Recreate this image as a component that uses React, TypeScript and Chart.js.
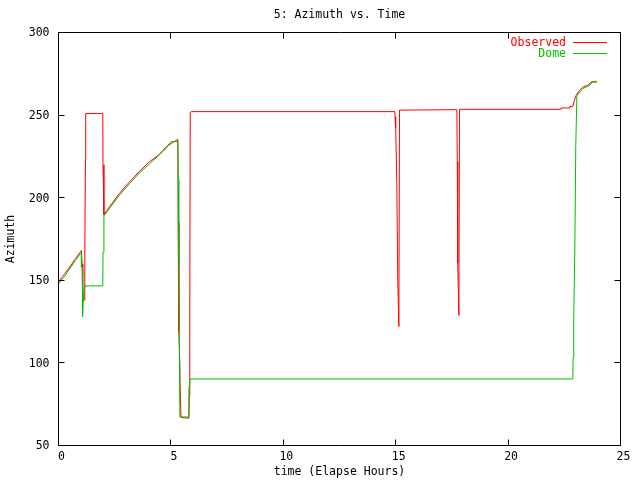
import React, { useEffect, useRef } from "react";
import { Chart, registerables } from "chart.js";

Chart.register(...registerables);

const TITLE = "5: Azimuth vs. Time";
const X_LABEL = "time (Elapse Hours)";
const Y_LABEL = "Azimuth";
const SERIES_NAMES = ["Observed", "Dome"];
const SERIES_COLORS = ["#ff0000", "#00c000"];
const X_TICKS = [0, 5, 10, 15, 20, 25];
const Y_TICKS = [50, 100, 150, 200, 250, 300];

const observedHours = [
  0, 0.25, 0.5, 0.75, 1.02, 1.05, 1.08, 1.16, 1.17, 1.2, 1.21, 1.97, 1.98, 2.02,
  2.27, 2.71, 3.16, 3.6, 4.05, 4.42, 4.64, 4.79, 5.1, 5.31, 5.32, 5.35, 5.36,
  5.4, 5.41, 5.45, 5.8, 5.82, 5.84, 5.86, 5.9, 14.96, 14.97, 15.0, 15.05, 15.09,
  15.14, 15.17, 17.72, 17.74, 17.76, 17.81, 17.84, 22.33, 22.35, 22.73, 22.75,
  22.88, 22.95, 23.03, 23.18, 23.32, 23.55, 23.7, 23.95,
];
const observedAzimuth = [
  149, 153.5, 158, 163, 168, 160, 138, 138, 166, 223, 251, 251, 220, 189.5,
  194.5, 202.6, 209.6, 215.9, 221.8, 225.5, 228.5, 230.8, 233.5, 235.4, 185,
  160, 119, 98, 86, 67, 66.5, 80, 130, 251.5, 252.1, 252.1, 249, 242, 209, 151,
  122, 253, 253.3, 221.7, 160.3, 128.7, 253.5, 253.5, 254.3, 254.3, 255.3,
  255.3, 259, 262, 265, 267, 268, 270, 270,
];

const domeHours = [
  0, 0.25, 0.5, 0.75, 0.97, 1.02, 1.02, 1.06, 1.07, 1.12, 1.18, 1.97, 1.98,
  2.02, 2.27, 2.71, 3.16, 3.6, 4.05, 4.42, 4.79, 5.0, 5.31, 5.33, 5.35, 5.4,
  5.65, 5.8, 5.8, 5.86, 22.88, 22.89, 22.92, 22.97, 23.01, 23.06, 23.18, 23.32,
  23.55, 23.7, 23.75, 23.95,
];
const domeAzimuth = [
  148, 152, 157, 162, 166, 166, 158, 158, 128, 142, 146.6, 146.6, 167, 189,
  193.5, 201.5, 208.5, 215, 220.5, 225, 230, 234, 234, 211, 160, 67.3, 67.3,
  67.3, 84.4, 90.3, 90.3, 103, 127.2, 170.3, 231, 262, 263.5, 266, 267.5, 269,
  270.4, 270.4,
];

const FONT_FAMILY = "'DejaVu Sans Mono', monospace";
const FONT_SIZE = 11.5;

const toPoints = (xs: number[], ys: number[]) =>
  xs.map((x, i) => ({ x, y: ys[i] }));

const framePlugin = {
  id: "gnuplotFrame",
  afterDraw(chart: any) {
    const { ctx, chartArea: a, scales } = chart;
    const crisp = (v: number) => Math.floor(v) + 0.5;
    const tick = 6;
    ctx.save();
    ctx.strokeStyle = "#000000";
    ctx.lineWidth = 1;
    ctx.beginPath();
    ctx.rect(a.left, a.top, a.right - a.left, a.bottom - a.top);
    X_TICKS.forEach((t) => {
      const x = crisp(scales.x.getPixelForValue(t));
      ctx.moveTo(x, a.bottom);
      ctx.lineTo(x, a.bottom - tick);
      ctx.moveTo(x, a.top);
      ctx.lineTo(x, a.top + tick);
    });
    Y_TICKS.forEach((t) => {
      const y = crisp(scales.y.getPixelForValue(t));
      ctx.moveTo(a.left, y);
      ctx.lineTo(a.left + tick, y);
      ctx.moveTo(a.right, y);
      ctx.lineTo(a.right - tick, y);
    });
    ctx.stroke();

    // gnuplot-style key (text right-aligned, sample line to the right)
    ctx.font = `${FONT_SIZE}px ${FONT_FAMILY}`;
    ctx.textAlign = "right";
    ctx.textBaseline = "middle";
    SERIES_NAMES.forEach((name, i) => {
      const y = 43 + i * 11;
      ctx.fillStyle = SERIES_COLORS[i];
      ctx.fillText(name, 566, y);
      ctx.strokeStyle = SERIES_COLORS[i];
      ctx.beginPath();
      ctx.moveTo(573, y - 0.5);
      ctx.lineTo(607, y - 0.5);
      ctx.stroke();
    });
    ctx.restore();
  },
};

export default function App() {
  const canvasRef = useRef<HTMLCanvasElement | null>(null);

  useEffect(() => {
    if (!canvasRef.current) return;
    const font = { family: FONT_FAMILY, size: FONT_SIZE, weight: "normal" as const };
    const chart = new Chart(canvasRef.current, {
      type: "scatter",
      data: {
        datasets: [
          {
            label: SERIES_NAMES[0],
            data: toPoints(observedHours, observedAzimuth),
            showLine: true,
            borderColor: SERIES_COLORS[0],
            backgroundColor: SERIES_COLORS[0],
            borderWidth: 1,
            pointRadius: 0,
            tension: 0,
            order: 2,
          },
          {
            label: SERIES_NAMES[1],
            data: toPoints(domeHours, domeAzimuth),
            showLine: true,
            borderColor: SERIES_COLORS[1],
            backgroundColor: SERIES_COLORS[1],
            borderWidth: 1,
            pointRadius: 0,
            tension: 0,
            order: 1,
          },
        ],
      },
      options: {
        responsive: false,
        animation: false,
        layout: { padding: { left: 0, right: 19.5, top: 0, bottom: 0 } },
        plugins: {
          legend: { display: false },
          tooltip: { enabled: false },
          title: {
            display: true,
            text: TITLE,
            color: "#000000",
            font,
            fullSize: false,
            padding: { top: 8, bottom: 10.7 },
          },
        },
        scales: {
          x: {
            type: "linear",
            min: 0,
            max: 25,
            grid: { display: false, drawTicks: false },
            border: { display: false },
            ticks: {
              stepSize: 5,
              color: "#000000",
              font,
              padding: 5,
              labelOffset: 3,
              maxRotation: 0,
            },
            title: {
              display: true,
              text: X_LABEL,
              color: "#000000",
              font,
              padding: { top: 0, bottom: 1.1 },
            },
            afterFit: (s: any) => {
              s.height = 34.5;
            },
          },
          y: {
            type: "linear",
            min: 50,
            max: 300,
            grid: { display: false, drawTicks: false },
            border: { display: false },
            ticks: {
              stepSize: 50,
              color: "#000000",
              font,
              padding: 9,
              labelOffset: 1,
            },
            title: {
              display: true,
              text: Y_LABEL,
              color: "#000000",
              font,
              padding: { top: 4.1, bottom: 0 },
            },
            afterFit: (s: any) => {
              s.width = 58.5;
            },
          },
        },
      },
      plugins: [framePlugin],
    });
    return () => chart.destroy();
  }, []);

  return (
    <div style={{ position: "absolute", left: 0, top: 0, width: 640, height: 480, background: "#ffffff" }}>
      <canvas ref={canvasRef} width={640} height={480} />
    </div>
  );
}
